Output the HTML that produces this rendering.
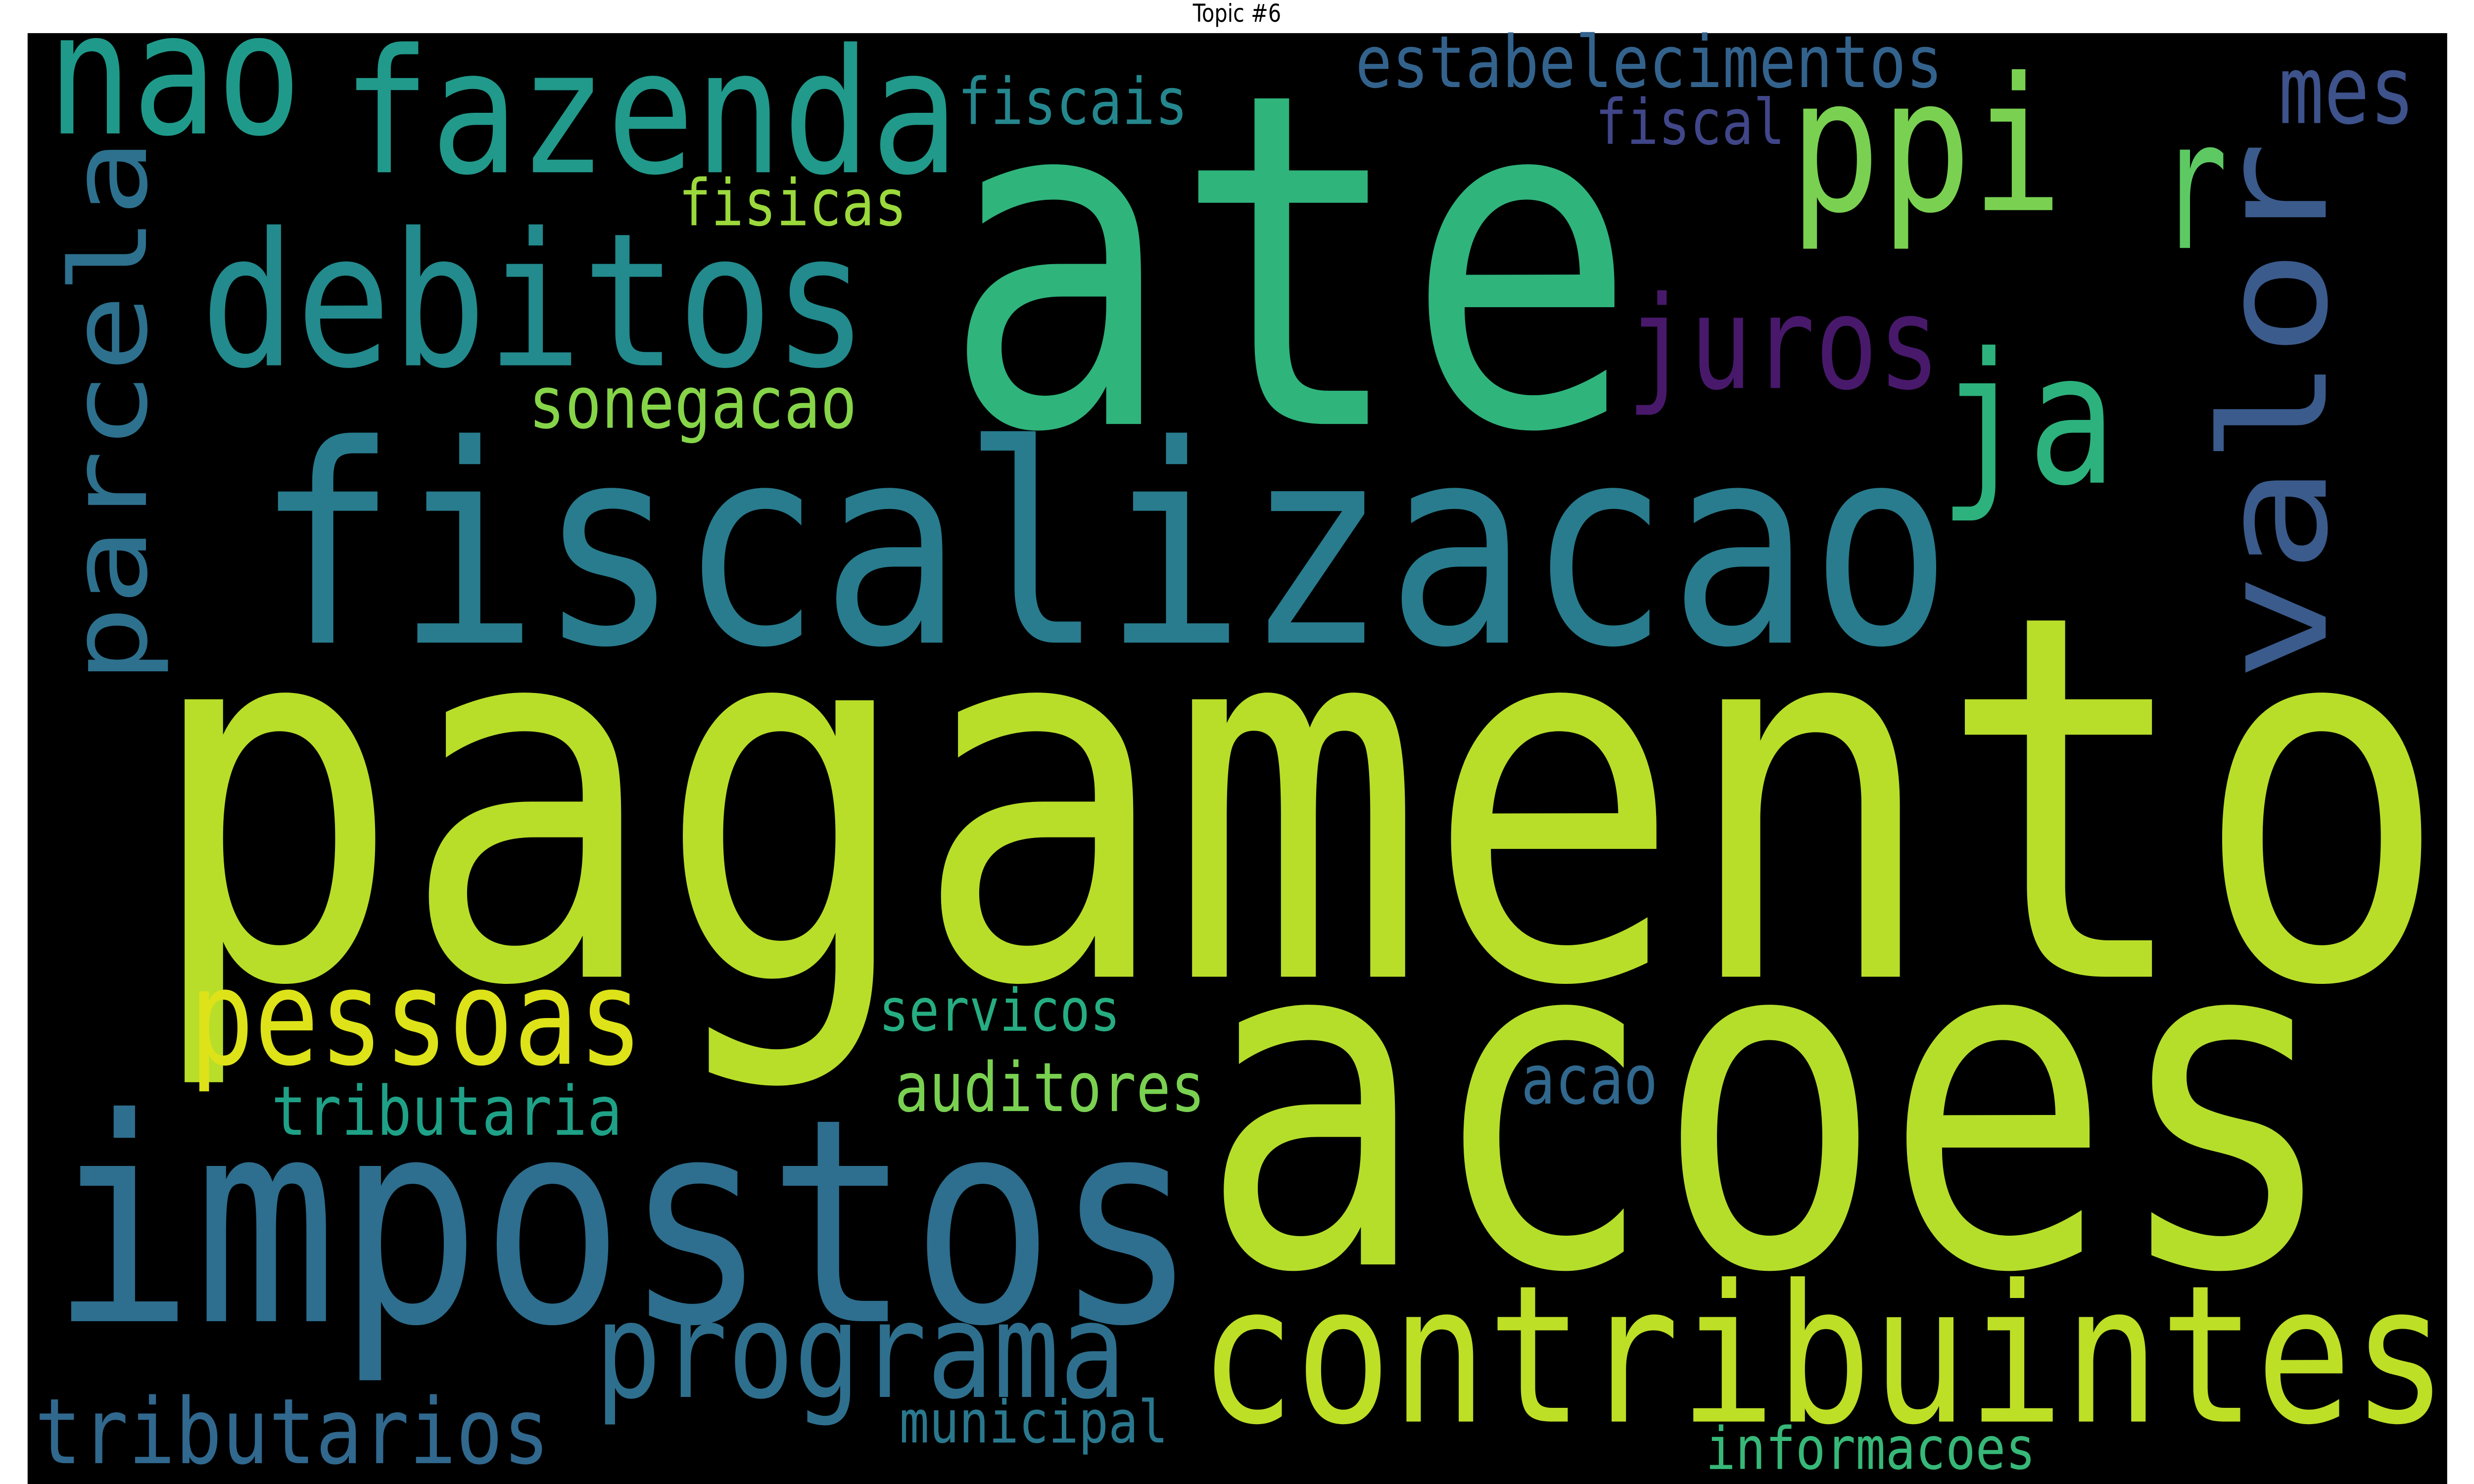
<!DOCTYPE html>
<html><head><meta charset="utf-8">
<style>
html,body{margin:0;padding:0;background:#fff;width:100%;height:100%;overflow:hidden;}
svg{display:block;position:absolute;left:0;top:0;width:100vw;height:100vh;}
</style></head>
<body>
<svg id="cloud" viewBox="0 0 1568 784" preserveAspectRatio="none" xmlns="http://www.w3.org/2000/svg">
<rect x="17.5" y="17.5" width="1533.5" height="767" fill="#000"/>
<text x="784" y="11.5" text-anchor="middle" font-family="DejaVu Sans, sans-serif" font-size="13" fill="#000">Topic #6</text>
<g id="words"></g>
</svg>
<script>
const words = ["nao","fazenda","fiscais","debitos","fisicas","sonegacao","fiscalizacao","ate","estabelecimentos","fiscal","ppi","r","mes","juros","ja","valor","parcela","pagamento","pessoas","servicos","auditores","tributaria","impostos","programa","tributarios","municipal","acoes","acao","contribuintes","informacoes"];
const sizes = [90,91,34,98,34,38,146,245,38,33,98,95,50,68,96,93,67,268,70,31,36,36,150,70,48,31,245,36,101,31];
const colors = ["#1f9a8a","#21998b","#25878e","#238a8d","#9bd93c","#86d549","#287c8e","#2fb47c","#33638d","#404688","#7ad151","#5ec962","#3e528b","#48196b","#2db27d","#3b5b8c","#2d718e","#b8de29","#dde318","#26ad81","#7ad151","#1fa187","#2e6e8e","#2e6f8e","#31688e","#2a788e","#b5de2b","#31688e","#bddf26","#37b878"];
const layoutX = [30,217,607,127,430,335,162,597,859,1011,1134,1369,1444,1031,1229,1474,92.5,92,120,557,567,172,32,377,22,570,760,964,760,1081];
const layoutY = [70.5,91,65.5,193,119,226,339.5,224,46,76,111,131,65,205,255,360,361,516,562,544.5,587,599.5,698,738,773,762,668,583,751,776];
const layoutW = [158,383,143,415,142,204,1054,432,365,118,170,42,85,195,110,280,282,1432,282,150,193,218,713,330,320,167,709,85,776,205];
const rotated = [0,0,0,0,0,0,0,0,0,0,0,0,0,0,0,1,1,0,0,0,0,0,0,0,0,0,0,0,0,0];
const g = document.getElementById('words');
const NS = 'http://www.w3.org/2000/svg';
words.forEach((w,i)=>{
  const t = document.createElementNS(NS,'text');
  
  
  t.setAttribute('x', layoutX[i]);
  t.setAttribute('y', layoutY[i]);
  t.setAttribute('font-family', 'DejaVu Sans Mono, Liberation Mono, monospace');
  t.setAttribute('font-size', sizes[i]);
  t.setAttribute('fill', colors[i]);
  t.setAttribute('textLength', layoutW[i] * 1.02);
  t.setAttribute('lengthAdjust', 'spacingAndGlyphs');
  if (rotated[i]) t.setAttribute('transform', 'rotate(-90 ' + layoutX[i] + ' ' + layoutY[i] + ')');
  t.textContent = w;
  g.appendChild(t);
});
</script>
</body></html>
